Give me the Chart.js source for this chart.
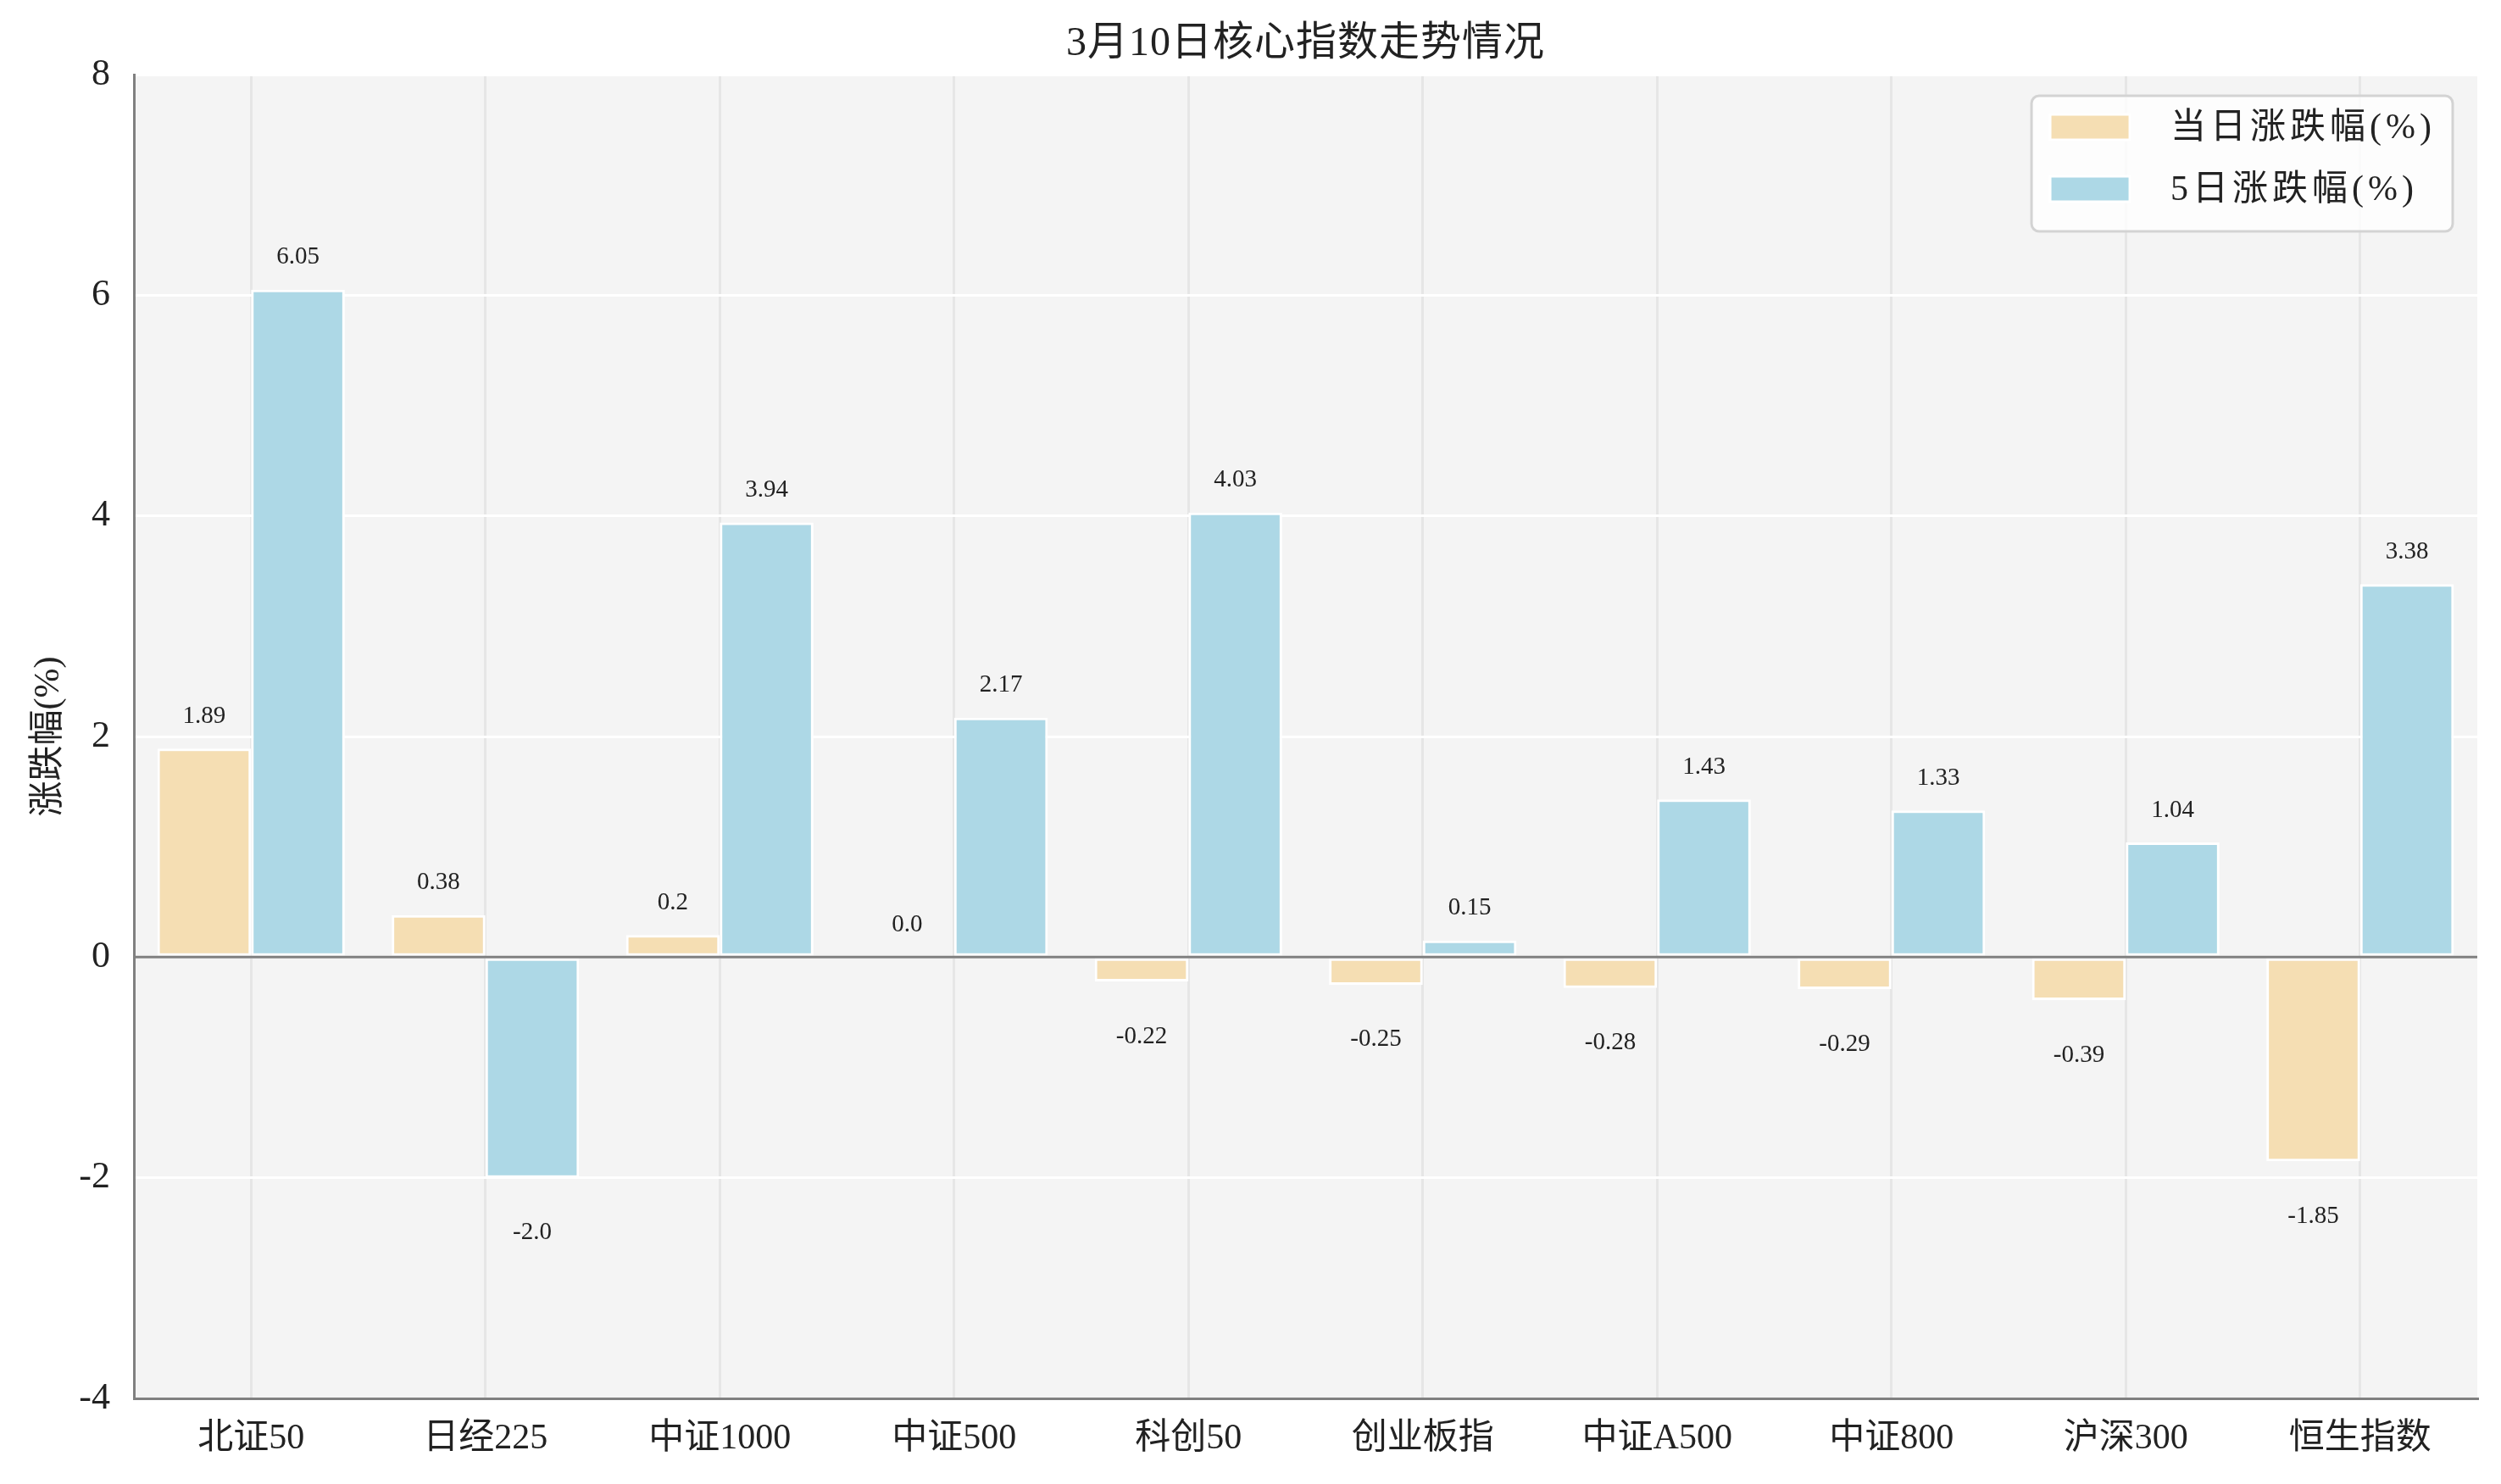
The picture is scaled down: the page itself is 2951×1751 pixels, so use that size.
<!DOCTYPE html>
<html><head><meta charset="utf-8">
<script src="https://cdn.jsdelivr.net/npm/chart.js@4/dist/chart.umd.min.js"></script>
<style>html,body{margin:0;padding:0;background:#fff;} #wrap{width:2951px;height:1751px;}</style>
</head><body><div id="wrap"><canvas id="c" width="2951" height="1751"></canvas></div>
<script>
const categories = ['北证50','日经225','中证1000','中证500','科创50','创业板指','中证A500','中证800','沪深300','恒生指数'];
const dayChange = [1.89, 0.38, 0.2, 0.0, -0.22, -0.25, -0.28, -0.29, -0.39, -1.85];
const fiveDayChange = [6.05, -2.0, 3.94, 2.17, 4.03, 0.15, 1.43, 1.33, 1.04, 3.38];
const seriesNames = ['当日涨跌幅(%)', '5日涨跌幅(%)'];
const yTicks = [-4, -2, 0, 2, 4, 6, 8];
const titleText = '3月10日核心指数走势情况';
const yAxisTitle = '涨跌幅(%)';

const FONT = '"Liberation Serif", "Noto Sans CJK SC", serif';
const TEXT = '#222222';
const fmt = v => Number.isInteger(v) ? v.toFixed(1) : String(v);

const decor = {
  id: 'decor',
  beforeDraw(chart) {
    const {ctx, chartArea: a} = chart;
    ctx.save();
    ctx.fillStyle = '#ffffff';
    ctx.fillRect(0, 0, chart.width, chart.height);
    ctx.fillStyle = '#f4f4f4';
    ctx.fillRect(a.left, a.top, a.right - a.left, a.bottom - a.top);
    ctx.restore();
  },
  afterDatasetsDraw(chart) {
    const {ctx, chartArea: a} = chart;
    const y = chart.scales.y;
    const z = y.getPixelForValue(0);
    ctx.save();
    ctx.strokeStyle = '#808080';
    ctx.lineWidth = 3;
    ctx.beginPath();
    ctx.moveTo(a.left, z); ctx.lineTo(a.right, z);
    ctx.stroke();
    ctx.fillStyle = TEXT;
    ctx.font = '29px ' + FONT;
    ctx.textAlign = 'center';
    ctx.textBaseline = 'middle';
    chart.data.datasets.forEach((ds, di) => {
      const meta = chart.getDatasetMeta(di);
      meta.data.forEach((bar, i) => {
        const v = ds.data[i];
        const py = y.getPixelForValue(v);
        const ty = v >= 0 ? py - 38 : py + 65;
        ctx.fillText(fmt(v), bar.x, ty);
      });
    });
    ctx.restore();
  },
  afterDraw(chart) {
    const {ctx, chartArea: a} = chart;
    ctx.save();
    // title
    ctx.fillStyle = TEXT;
    ctx.font = '48px ' + FONT;
    ctx.textAlign = 'center';
    ctx.textBaseline = 'middle';
    ctx.letterSpacing = '1px';
    ctx.fillText(titleText, (a.left + a.right) / 2, 52);
    ctx.letterSpacing = '0px';
    // y axis title
    ctx.save();
    ctx.translate(58, (a.top + a.bottom) / 2);
    ctx.rotate(-Math.PI / 2);
    ctx.font = '42px ' + FONT;
    ctx.fillText(yAxisTitle, 0, 0);
    ctx.restore();
    // legend
    const sw = 94, sh = 30, rowGap = 73;
    ctx.font = '42px ' + FONT;
    ctx.letterSpacing = '5px';
    const tw = Math.max(...chart.data.datasets.map(d => ctx.measureText(d.label).width));
    const padL = 22, gap = 48, padR = 20;
    const bw = padL + sw + gap + tw + padR;
    const bh = 160;
    const bx = a.right - 29 - bw;
    const by = a.top + 25;
    ctx.beginPath();
    ctx.roundRect(bx, by, bw, bh, 9);
    ctx.fillStyle = 'rgba(255,255,255,0.8)';
    ctx.fill();
    ctx.strokeStyle = '#d3d3d3';
    ctx.lineWidth = 3;
    ctx.stroke();
    chart.data.datasets.forEach((ds, i) => {
      const cy = by + 37 + i * rowGap;
      ctx.fillStyle = ds.backgroundColor;
      ctx.fillRect(bx + padL, cy - sh / 2, sw, sh);
      ctx.strokeStyle = '#ffffff';
      ctx.lineWidth = 3;
      ctx.strokeRect(bx + padL, cy - sh / 2, sw, sh);
      ctx.fillStyle = TEXT;
      ctx.textAlign = 'left';
      ctx.fillText(ds.label, bx + padL + sw + gap, cy + 2);
    });
    ctx.restore();
  }
};

new Chart(document.getElementById('c'), {
  type: 'bar',
  data: {
    labels: categories,
    datasets: [
      {label: seriesNames[0], data: dayChange, backgroundColor: '#f5deb3', borderColor: '#ffffff', borderWidth: 3, borderSkipped: false},
      {label: seriesNames[1], data: fiveDayChange, backgroundColor: '#add8e6', borderColor: '#ffffff', borderWidth: 3, borderSkipped: false}
    ]
  },
  options: {
    responsive: false,
    devicePixelRatio: 1,
    animation: false,
    layout: {padding: {top: 88, right: 28, left: 0, bottom: 0}},
    datasets: {bar: {categoryPercentage: 0.8, barPercentage: 1.0}},
    plugins: {legend: {display: false}, title: {display: false}, tooltip: {enabled: false}},
    scales: {
      x: {
        offset: true,
        grid: {offset: false, color: '#e6e6e6', lineWidth: 3, drawTicks: false},
        border: {display: true, color: '#808080', width: 3},
        ticks: {color: TEXT, font: {family: FONT, size: 42}, padding: 23, maxRotation: 0, autoSkip: false},
        afterFit(s) { s.height = 101; }
      },
      y: {
        min: -4, max: 8,
        afterBuildTicks(s) { s.ticks = yTicks.map(v => ({value: v})); },
        grid: {color: '#ffffff', lineWidth: 3, drawTicks: false},
        border: {display: true, color: '#808080', width: 3},
        ticks: {color: TEXT, font: {family: FONT, size: 44}, padding: 28, callback: v => String(v)},
        afterFit(s) { s.width = 158; }
      }
    }
  },
  plugins: [decor]
});
</script>
</body></html>
